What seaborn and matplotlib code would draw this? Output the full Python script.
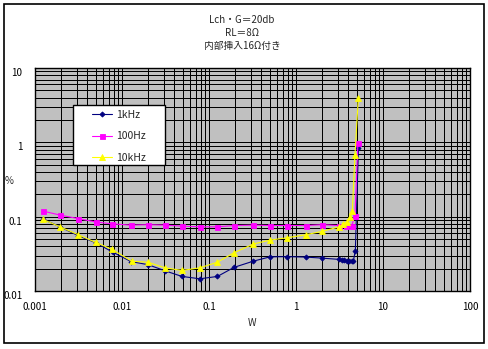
import matplotlib
matplotlib.use("Agg")
import matplotlib.pyplot as plt
import matplotlib.ticker as mticker
from matplotlib.patches import Rectangle
import numpy as np
import pandas as pd
import seaborn as sns

# Output power (W) vs THD (%) for three test frequencies
w_1k = [0.00125, 0.00194, 0.00315, 0.00498, 0.0078, 0.0127, 0.0199, 0.0312, 0.0489,
        0.0785, 0.125, 0.194, 0.323, 0.502, 0.78, 1.29, 1.99, 3.15, 3.38, 3.59,
        3.83, 4.1, 4.36, 4.56, 4.81, 5.22]
thd_1k = [0.092, 0.073, 0.0553, 0.0446, 0.0334, 0.0249, 0.0226, 0.0187, 0.0157,
          0.0146, 0.0157, 0.0208, 0.0252, 0.0288, 0.029, 0.0286, 0.0277, 0.0266,
          0.026, 0.0258, 0.0256, 0.0253, 0.0253, 0.0253, 0.0348, 0.83]

w_100 = [0.00123, 0.00194, 0.00315, 0.00498, 0.00767, 0.0126, 0.020, 0.0312, 0.0485,
         0.0788, 0.124, 0.194, 0.323, 0.502, 0.78, 1.29, 1.99, 3.1, 3.8, 4.36,
         4.76, 5.15]
thd_100 = [0.119, 0.105, 0.094, 0.085, 0.080, 0.077, 0.078, 0.077, 0.0746,
           0.073, 0.073, 0.076, 0.077, 0.076, 0.076, 0.076, 0.078, 0.076, 0.075,
           0.075, 0.103, 0.98]

w_10k = [0.00123, 0.00194, 0.00315, 0.00498, 0.0077, 0.0129, 0.020, 0.0312, 0.049,
         0.0785, 0.124, 0.194, 0.323, 0.502, 0.79, 1.29, 1.99, 3.15, 3.47, 3.83,
         4.17, 4.44, 4.76, 5.2]
thd_10k = [0.092, 0.073, 0.057, 0.0451, 0.0363, 0.0252, 0.0243, 0.0205, 0.0189,
           0.0205, 0.0243, 0.0327, 0.0428, 0.0484, 0.052, 0.057, 0.0634, 0.073,
           0.0794, 0.085, 0.0998, 0.119, 0.675, 3.9]

series = [
    ("1kHz", w_1k, thd_1k, "#000080", "D", 2.6),
    ("100Hz", w_100, thd_100, "#FF00FF", "s", 3.6),
    ("10kHz", w_10k, thd_10k, "#FFFF00", "^", 4.6),
]

title_lines = ["Lch・G＝20db", "RL＝8Ω", "内部挿入16Ω付き"]
x_ticks = [0.001, 0.01, 0.1, 1, 10, 100]
x_labels = ["0.001", "0.01", "0.1", "1", "10", "100"]
y_ticks = [0.01, 0.1, 1, 10]
y_labels = ["0.01", "0.1", "1", "10"]

sns.set_theme(style="white")
plt.rcParams["font.family"] = ["Noto Sans CJK JP", "DejaVu Sans"]

W, H = 489, 349
fig = plt.figure(figsize=(W / 100, H / 100), dpi=100)
fig.patch.set_facecolor("white")
fig.patches.append(Rectangle((4 / W, 6 / H), 480 / W, 339 / H, transform=fig.transFigure,
                             fill=False, edgecolor="black", linewidth=1.2))

ax = fig.add_axes([35 / W, 1 - 291 / H, 435 / W, 223 / H])
ax.set_facecolor("#C0C0C0")
ax.set_xscale("log")
ax.set_yscale("log")
ax.set_xlim(0.001, 100)
ax.set_ylim(0.01, 10)

for name, xs, ys, color, marker, ms in series:
    df = pd.DataFrame({"W": xs, "THD": ys})
    sns.lineplot(data=df, x="W", y="THD", ax=ax, color=color, marker=marker,
                 markersize=ms, markeredgecolor=color, markeredgewidth=0.6,
                 linewidth=0.8, estimator=None, sort=False, label=name, zorder=3)

ax.xaxis.set_major_locator(mticker.FixedLocator(x_ticks))
ax.yaxis.set_major_locator(mticker.FixedLocator(y_ticks))
ax.xaxis.set_minor_locator(mticker.LogLocator(base=10, subs=np.arange(2, 10), numticks=20))
ax.yaxis.set_minor_locator(mticker.LogLocator(base=10, subs=np.arange(2, 10), numticks=20))
ax.xaxis.set_minor_formatter(mticker.NullFormatter())
ax.yaxis.set_minor_formatter(mticker.NullFormatter())
ax.set_xticklabels(x_labels)
ax.set_yticklabels(y_labels)
ax.grid(True, which="both", color="black", linewidth=0.72, antialiased=False)
ax.set_axisbelow(True)
ax.tick_params(which="both", length=0, labelsize=7, colors="black")
ax.tick_params(axis="x", pad=8)
ax.tick_params(axis="y", pad=9)
for lbl in ax.get_yticklabels():
    lbl.set_va("top")
for sp in ax.spines.values():
    sp.set_color("black")
    sp.set_linewidth(1.0)
ax.set_xlabel("")
ax.set_ylabel("")

fig.text(252 / W, 1 - 323 / H, "W", ha="center", va="center", fontsize=7)
fig.text(9 / W, 1 - 181 / H, "%", ha="center", va="center", fontsize=7)
for i, line in enumerate(title_lines):
    fig.text(242 / W, 1 - (20 + 13 * i) / H, line, ha="center", va="center", fontsize=7)

# Legend: white box drawn separately, entries placed inside it without a frame
def ax_xy(px, py):
    return (px - 35) / 435, (291 - py) / 223

bx0, by0 = ax_xy(73, 165)
bx1, by1 = ax_xy(165, 105)
ax.add_patch(Rectangle((bx0, by0), bx1 - bx0, by1 - by0, transform=ax.transAxes,
                       facecolor="white", edgecolor="black", linewidth=1.0, zorder=5))
leg = ax.legend(loc="upper left", bbox_to_anchor=ax_xy(92, 110), frameon=False,
                fontsize=7.5, labelspacing=1.1, handlelength=1.9, borderpad=0,
                borderaxespad=0, handletextpad=0.4)
leg.set_zorder(6)

fig.savefig("out.png", dpi=100)
